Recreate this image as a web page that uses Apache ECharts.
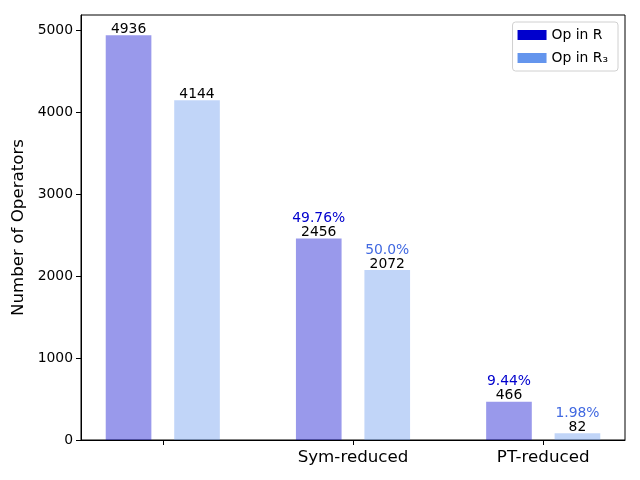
<!DOCTYPE html>
<html><head><meta charset="utf-8">
<script src="https://cdn.jsdelivr.net/npm/echarts@6/dist/echarts.min.js"></script>
<style>html,body{margin:0;padding:0;background:#fff}#c{width:640px;height:480px}</style>
</head><body><div id="c"></div>
<script>
const categories = ['', 'Sym-reduced', 'PT-reduced'];
const opInR = [4936, 2456, 466];
const opInR3 = [4144, 2072, 82];
const pctR = [null, '49.76%', '9.44%'];
const pctR3 = [null, '50.0%', '1.98%'];
const yTicks = [0, 1000, 2000, 3000, 4000, 5000];

const FONT = 'DejaVu Sans';
const BAR_W = 0.24, OFF = 0.18;

function makeRender(offset, fill, pctColor, pcts) {
  return function (params, api) {
    const x = api.value(0), y = api.value(1);
    const top = api.coord([x + offset, y]);
    const base = api.coord([x + offset, 0]);
    const w = api.size([BAR_W, 0])[0];
    const children = [{
      type: 'rect',
      shape: { x: top[0] - w / 2, y: top[1], width: w, height: base[1] - top[1] },
      style: { fill: fill }
    }, {
      type: 'text',
      style: { text: String(y), x: top[0], y: top[1] + 1, align: 'center', verticalAlign: 'bottom',
        font: '13.9px "DejaVu Sans"', fill: '#000' }
    }];
    const p = pcts[params.dataIndex];
    if (p) {
      children.push({
        type: 'text',
        style: { text: p, x: top[0], y: top[1] - 13, align: 'center', verticalAlign: 'bottom',
          font: '13.9px "DejaVu Sans"', fill: pctColor }
      });
    }
    return { type: 'group', children: children };
  };
}

const chart = echarts.init(document.getElementById('c'), null, { renderer: 'canvas' });
chart.setOption({
  animation: false,
  textStyle: { fontFamily: FONT },
  grid: { left: 81, right: 15, top: 15, bottom: 40, show: true, borderColor: '#000', borderWidth: 1, backgroundColor: 'transparent' },
  legend: {
    orient: 'vertical', right: 22, top: 22,
    itemWidth: 29, itemHeight: 10, itemGap: 9,
    padding: [6, 10, 6, 5],
    borderColor: '#d0d0d0', borderWidth: 1, borderRadius: 3, backgroundColor: 'rgba(255,255,255,0.8)',
    icon: 'rect',
    textStyle: { fontFamily: FONT, fontSize: 13.9, color: '#000' },
    data: [
      { name: 'Op in R', itemStyle: { color: '#0000CD' } },
      { name: 'Op in R₃', itemStyle: { color: '#6495ED' } }
    ]
  },
  xAxis: {
    type: 'value', min: -0.43, max: 2.43,
    splitLine: { show: false },
    axisLine: { show: true, onZero: false, lineStyle: { color: '#000', width: 1 } },
    axisTick: { show: true, customValues: [0, 1, 2], length: 5, lineStyle: { color: '#000' } },
    axisLabel: { customValues: [0, 1, 2], formatter: v => categories[Math.round(v)] || '', fontSize: 16.7, color: '#000', fontFamily: FONT, margin: 9 }
  },
  yAxis: {
    type: 'value', min: 0, max: 5183,
    name: 'Number of Operators', nameLocation: 'middle', nameGap: 36,
    nameTextStyle: { fontSize: 16.7, color: '#000', fontFamily: FONT },
    splitLine: { show: false },
    axisLine: { show: true, onZero: false, lineStyle: { color: '#000', width: 1 } },
    axisTick: { show: true, customValues: yTicks, length: 5, lineStyle: { color: '#000' } },
    axisLabel: { customValues: yTicks, formatter: v => String(v), fontSize: 13.9, color: '#000', fontFamily: FONT, margin: 8 }
  },
  series: [
    {
      name: 'Op in R', type: 'custom', itemStyle: { color: '#0000CD' },
      renderItem: makeRender(-OFF, 'rgba(0,0,205,0.4)', '#0000CD', pctR),
      data: opInR.map((v, i) => [i, v]), encode: { x: 0, y: 1 }, clip: false
    },
    {
      name: 'Op in R₃', type: 'custom', itemStyle: { color: '#6495ED' },
      renderItem: makeRender(OFF, 'rgba(100,149,237,0.4)', '#4169E1', pctR3),
      data: opInR3.map((v, i) => [i, v]), encode: { x: 0, y: 1 }, clip: false
    }
  ]
});
</script></body></html>
